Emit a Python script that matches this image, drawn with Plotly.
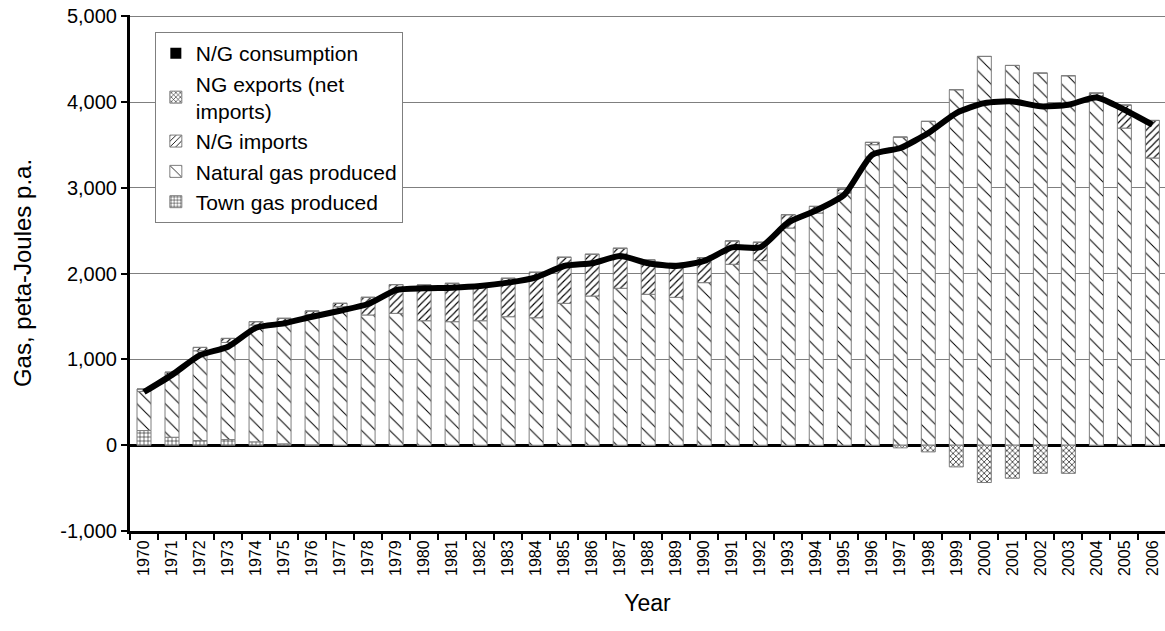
import plotly.graph_objects as go

years = [str(y) for y in range(1970, 2007)]

town_gas = [171, 93, 54, 66, 39, 16, 5, 0, 0, 0, 0, 0, 0, 0, 0, 0, 0, 0, 0, 0,
            0, 0, 0, 0, 0, 0, 0, 0, 0, 0, 0, 0, 0, 0, 0, 0, 0]
natural_gas = [456, 730, 1047, 1132, 1362, 1424, 1520, 1615, 1518, 1537, 1451, 1440, 1451, 1498,
               1486, 1654, 1739, 1829, 1759, 1724, 1895, 2109, 2152, 2532, 2707, 2940, 3503,
               3592, 3775, 4144, 4532, 4427, 4338, 4307, 4066, 3697, 3348]
ng_imports = [28, 28, 39, 47, 39, 39, 39, 39, 206, 335, 417, 447, 419, 448, 530, 537, 487, 467,
              401, 396, 292, 272, 214, 155, 77, 46, 27, 0, 0, 0, 0, 0, 0, 0, 39, 268, 438]
ng_exports = [0, 0, 0, 0, 0, 0, 0, 0, 0, 0, 0, 0, 0, 0, 0, 0, 0, 0, 0, 0, 0, 0, 0, 0, 0, 0, 0,
              -31, -78, -253, -435, -385, -328, -328, 0, 0, 0]
consumption = [620, 820, 1050, 1148, 1370, 1420, 1498, 1568, 1646, 1809, 1829, 1837, 1856, 1895,
               1957, 2089, 2121, 2206, 2121, 2089, 2148, 2307, 2307, 2598, 2738, 2920, 3386,
               3464, 3639, 3872, 3988, 4008, 3950, 3969, 4054, 3911, 3736]

ytick_vals = [-1000, 0, 1000, 2000, 3000, 4000, 5000]
ytick_labels = ["-1,000", "0", "1,000", "2,000", "3,000", "4,000", "5,000"]

FONT = "Liberation Sans, Arial, sans-serif"
OUTLINE = dict(color="#7f7f7f", width=1)

def bar(name, vals, shape, size, solidity, rank):
    return go.Bar(
        x=years, y=vals, name=name, legendrank=rank,
        marker=dict(color="white", line=OUTLINE,
                    pattern=dict(shape=shape, fgcolor="black", bgcolor="white",
                                 size=size, solidity=solidity, fillmode="replace")),
    )

fig = go.Figure()
fig.add_trace(bar("Town gas produced", town_gas, "+", 4, 0.25, 5))
fig.add_trace(bar("Natural gas produced", natural_gas, "\\", 10, 0.1, 4))
fig.add_trace(bar("N/G imports", ng_imports, "/", 5, 0.22, 3))
fig.add_trace(bar("NG exports (net<br>imports)", ng_exports, "x", 4, 0.3, 2))
fig.add_trace(go.Scatter(x=years, y=consumption, mode="lines", showlegend=False,
                         line=dict(color="black", width=6, shape="spline", smoothing=0.6)))
fig.add_trace(go.Scatter(x=[None], y=[None], mode="markers", name="N/G consumption",
                         legendrank=1, marker=dict(symbol="square", size=11, color="black")))

# the page body margin is removed below, so the figure fills the 1165x631 window
fig.update_layout(
    width=1165, height=631,
    margin=dict(l=130, r=0, t=15, b=100, autoexpand=False),
    paper_bgcolor="white", plot_bgcolor="white",
    barmode="relative", bargap=0.5,
    font=dict(family=FONT, color="black", size=18),
    showlegend=True,
    legend=dict(x=0.024, y=0.967, xanchor="left", yanchor="top",
                bgcolor="white", bordercolor="#7f7f7f", borderwidth=1,
                font=dict(size=21, family=FONT), itemwidth=30, tracegroupgap=0),
    xaxis=dict(type="category", range=[-0.5, 36.45], tickson="boundaries",
               ticks="outside", ticklen=6, tickwidth=2, tickcolor="black",
               showline=True, linecolor="black", linewidth=3,
               tickangle=-90, tickfont=dict(size=16), ticklabeloverflow="allow",
               title=dict(text="Year", font=dict(size=23), standoff=20),
               showgrid=False),
    yaxis=dict(range=[-1000, 5015], tickvals=ytick_vals, ticktext=ytick_labels,
               ticks="outside", ticklen=6, tickwidth=2, tickcolor="black",
               showline=True, linecolor="black", linewidth=3,
               showgrid=True, gridcolor="#7f7f7f", gridwidth=1,
               zeroline=True, zerolinecolor="black", zerolinewidth=3,
               tickfont=dict(size=20), ticklabeloverflow="allow",
               title=dict(text="Gas, peta-Joules p.a.", font=dict(size=24), standoff=22)),
)

fig.write_html("out.html",
               config={"displayModeBar": False},
               post_script="document.body.style.margin='0';document.body.style.overflow='hidden';")
